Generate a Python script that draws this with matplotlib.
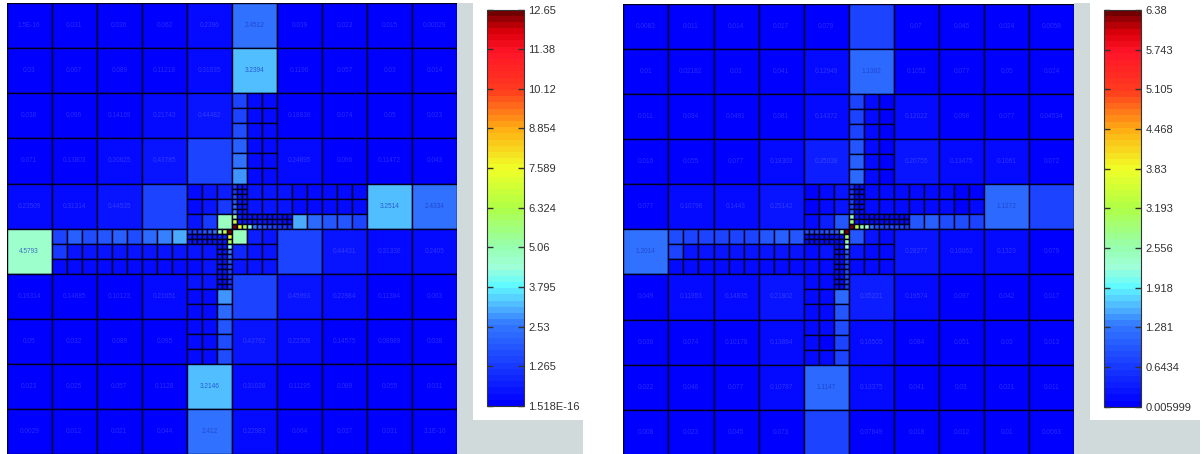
import matplotlib
matplotlib.use("Agg")
import matplotlib.pyplot as plt
from matplotlib.cm import ScalarMappable
from matplotlib.collections import PatchCollection
from matplotlib.colors import LinearSegmentedColormap, Normalize
from matplotlib.patches import Rectangle

plt.rcParams['font.family'] = ['Liberation Sans', 'DejaVu Sans']

WIDTH, HEIGHT = 1204, 454

# every cell is a number, or a 3x3 list of cells (rows go top to bottom)

# ---- left panel ----
L_MAX = 12.65
L_TICKS = ["1.518E-16", "1.265", "2.53", "3.795", "5.06", "6.324",
           "7.589", "8.854", "10.12", "11.38", "12.65"]

L_R2C5 = [[1.4, .3, .25], [1.5, .3, .25], [1.7, .3, .25]]
L_R3C5 = [[2.1, .3, .25], [2.5, .3, .25], [2.8, .3, .3]]
L_R4C4 = [[.35, .4, .6], [.35, .5, 1.2], [.4, 1.2, 4.9]]
L_UP_1 = [[1.2, .5, .4], [1.3, .5, .4], [1.6, .5, .4]]
L_UP_2 = [[1.8, .5, .4], [2.2, .5, .4], [2.6, .5, .4]]
L_TIP_A = [[5.2, .6, .5], [7.0, .6, .5], [12.65, 7.5, 6.5]]
L_ARM_A = [[.5, .5, .4], [.5, .5, .4], [4.2, 2.6, 2.2]]
L_ARM_B = [[.4, .4, .4], [.4, .4, .4], [1.8, 1.6, 1.5]]
L_ARM_C = [[.4, .3, .3], [.4, .3, .3], [1.3, 1.2, 1.1]]
L_R4C5 = [[L_UP_1, .5, .4], [L_UP_2, .5, .4], [L_TIP_A, L_ARM_A, L_ARM_B]]
L_R4C6 = [[.4, .35, .35], [.4, .35, .35], [L_ARM_C, 3.1, 2.3]]
L_R4C7 = [[.35, .3, .3], [.35, .3, .35], [1.9, 1.8, 1.5]]
L_R5C1 = [[1.5, 2.0, 1.7], [1.2, .45, .4], [.3, .3, .3]]
L_R5C2 = [[1.8, 2.0, 1.7], [.4, .4, .4], [.3, .3, .3]]
L_R5C3 = [[2.3, 2.6, 3.0], [.4, .45, .5], [.3, .3, .35]]
L_LEFT_1 = [[1.2, 1.4, 1.5], [.4, .4, .5], [.4, .4, .5]]
L_LEFT_2 = [[1.8, 2.0, 2.4], [.5, .5, .5], [.5, .5, .5]]
L_TIP_B = [[5.2, 6.8, 12.65], [.6, .6, 7.5], [.5, .5, 6.5]]
L_DOWN_1 = [[.5, .5, 4.2], [.5, .5, 2.6], [.4, .4, 2.2]]
L_DOWN_2 = [[.4, .4, 1.8], [.4, .4, 1.6], [.4, .4, 1.5]]
L_DOWN_3 = [[.4, .4, 1.3], [.3, .3, 1.2], [.3, .3, 1.1]]
L_R5C4 = [[L_LEFT_1, L_LEFT_2, L_TIP_B], [.4, .5, L_DOWN_1], [.35, .45, L_DOWN_2]]
L_R5C5 = [[4.9, .7, .55], [.8, .55, .45], [.55, .4, .4]]
L_R6C4 = [[.45, .45, L_DOWN_3], [.3, .3, 2.8], [.3, .3, 2.2]]
L_R7C4 = [[.3, .3, 1.8], [.3, .25, 1.7], [.3, .3, 1.6]]

LEFT_GRID = [
    [1.5e-16, 0.031, 0.036, 0.062, 0.2396, 2.4512, 0.039, 0.023, 0.015, 0.00029],
    [0.03, 0.067, 0.089, 0.11218, 0.31035, 3.2394, 0.1196, 0.057, 0.03, 0.014],
    [0.038, 0.096, 0.14169, 0.21743, 0.44482, L_R2C5, 0.18836, 0.074, 0.05, 0.023],
    [0.071, 0.13803, 0.20625, 0.43785, 1.4, L_R3C5, 0.24895, 0.096, 0.11472, 0.043],
    [0.23509, 0.31314, 0.44535, 1.4, L_R4C4, L_R4C5, L_R4C6, L_R4C7, 3.2514, 2.4334],
    [4.5793, L_R5C1, L_R5C2, L_R5C3, L_R5C4, L_R5C5, 1.4, 0.44431, 0.31336, 0.2405],
    [0.16314, 0.14885, 0.10123, 0.21051, L_R6C4, 1.4, 0.45993, 0.22984, 0.11384, 0.063],
    [0.05, 0.032, 0.089, 0.095, L_R7C4, 0.43762, 0.22309, 0.14575, 0.08989, 0.038],
    [0.023, 0.025, 0.057, 0.1128, 3.2146, 0.31028, 0.11195, 0.089, 0.055, 0.031],
    [0.0029, 0.012, 0.021, 0.044, 2.412, 0.22983, 0.064, 0.037, 0.031, 3.1e-16],
]

# ---- right panel ----
R_MAX = 6.38
R_MIN = 0.005999
R_TICKS = ["0.005999", "0.6434", "1.281", "1.918", "2.556", "3.193",
           "3.83", "4.468", "5.105", "5.743", "6.38"]

R_R2C5 = [[.75, .12, .1], [.8, .12, .1], [.8, .12, .1]]
R_R3C5 = [[.95, .12, .1], [1.1, .12, .1], [1.15, .12, .1]]
R_R4C4 = [[.1, .15, .25], [.1, .2, .3], [.15, .35, .95]]
R_UP_1 = [[.6, .2, .15], [.65, .2, .15], [.7, .2, .15]]
R_UP_2 = [[.75, .2, .15], [.8, .2, .15], [1.1, .2, .15]]
R_TIP_A = [[2.5, .25, .2], [2.9, .25, .2], [6.38, 3.2, 2.5]]
R_ARM_A = [[.2, .2, .15], [.2, .2, .15], [2.3, 1.3, .95]]
R_ARM_B = [[.15, .15, .15], [.15, .15, .15], [.9, .85, .85]]
R_ARM_C = [[.15, .12, .12], [.15, .12, .12], [.85, .85, .8]]
R_R4C5 = [[R_UP_1, .2, .15], [R_UP_2, .2, .15], [R_TIP_A, R_ARM_A, R_ARM_B]]
R_R4C6 = [[.15, .12, .12], [.15, .12, .12], [R_ARM_C, 1.0, 1.05]]
R_R4C7 = [[.12, .1, .1], [.12, .1, .12], [.85, .85, .8]]
R_R5C1 = [[.85, .8, .75], [.8, .25, .25], [.15, .15, .15]]
R_R5C2 = [[.8, .8, .75], [.25, .25, .25], [.15, .15, .15]]
R_R5C3 = [[1.0, 1.1, 1.0], [.25, .25, .3], [.15, .15, .2]]
R_LEFT_1 = [[.9, .9, .9], [.2, .2, .2], [.2, .2, .2]]
R_LEFT_2 = [[.9, 1.0, 1.0], [.2, .2, .2], [.2, .2, .2]]
R_TIP_B = [[1.1, 2.5, 6.38], [.25, .25, 3.0], [.2, .25, 2.5]]
R_DOWN_1 = [[.2, .2, 2.2], [.2, .2, 1.1], [.2, .2, .95]]
R_DOWN_2 = [[.15, .15, .9], [.15, .15, .85], [.15, .15, .85]]
R_DOWN_3 = [[.15, .15, .85], [.12, .12, .85], [.12, .12, .8]]
R_R5C4 = [[R_LEFT_1, R_LEFT_2, R_TIP_B], [.2, .25, R_DOWN_1], [.15, .2, R_DOWN_2]]
R_R5C5 = [[.95, .25, .2], [.25, .2, .15], [.2, .15, .15]]
R_R6C4 = [[.2, .2, R_DOWN_3], [.12, .15, 1.15], [.12, .15, .95]]
R_R7C4 = [[.12, .12, .85], [.12, .1, .8], [.12, .12, .8]]

RIGHT_GRID = [
    [0.0083, 0.011, 0.014, 0.017, 0.079, 0.75, 0.07, 0.045, 0.024, 0.0058],
    [0.01, 0.02182, 0.03, 0.041, 0.12949, 1.1362, 0.1052, 0.077, 0.05, 0.024],
    [0.011, 0.034, 0.0491, 0.081, 0.14372, R_R2C5, 0.12022, 0.098, 0.077, 0.04534],
    [0.016, 0.055, 0.077, 0.18303, 0.35038, R_R3C5, 0.20755, 0.13475, 0.1061, 0.072],
    [0.077, 0.10796, 0.1443, 0.25142, R_R4C4, R_R4C5, R_R4C6, R_R4C7, 1.1272, 0.75],
    [1.2014, R_R5C1, R_R5C2, R_R5C3, R_R5C4, R_R5C5, 0.28277, 0.16063, 0.1323, 0.079],
    [0.049, 0.11953, 0.14835, 0.21802, R_R6C4, 0.35221, 0.19574, 0.097, 0.042, 0.017],
    [0.036, 0.074, 0.10178, 0.13884, R_R7C4, 0.16505, 0.084, 0.051, 0.03, 0.013],
    [0.022, 0.046, 0.077, 0.10787, 1.1147, 0.13375, 0.041, 0.03, 0.021, 0.011],
    [0.008, 0.023, 0.045, 0.073, 0.75, 0.07849, 0.018, 0.012, 0.01, 0.0063],
]

COLOR_STOPS = [
    (0.0, (0, 0, 255)), (0.2, (50, 120, 255)), (0.25, (80, 185, 255)),
    (0.3, (95, 250, 255)), (0.35, (160, 255, 215)), (0.4, (150, 255, 175)),
    (0.5, (175, 255, 70)), (0.6, (240, 255, 40)), (0.7, (255, 175, 20)),
    (0.8, (255, 60, 30)), (0.9, (255, 20, 40)), (0.95, (220, 0, 10)),
    (1.0, (115, 0, 0)),
]
jet_like = LinearSegmentedColormap.from_list(
    "mesh", [(t, tuple(c / 255 for c in rgb)) for t, rgb in COLOR_STOPS], N=64)

PANEL_GREY = "#d0dada"


def px_box(x0, y0, x1, y1):
    # pixel box (top left origin) -> figure fraction rect
    return [x0 / WIDTH, 1 - y1 / HEIGHT, (x1 - x0) / WIDTH, (y1 - y0) / HEIGHT]


def add_grey(fig, x0, y0, x1, y1):
    l, b, w, h = px_box(x0, y0, x1, y1)
    fig.add_artist(Rectangle((l, b), w, h, transform=fig.transFigure,
                             facecolor=PANEL_GREY, edgecolor="none", zorder=0))


def collect_cells(cell, x, y, size, out):
    if isinstance(cell, list):
        step = size / 3
        for i, row in enumerate(cell):
            for j, sub in enumerate(row):
                collect_cells(sub, x + j * step, y + i * step, step, out)
    else:
        out.append((x, y, size, cell))


def draw_mesh(ax, grid, norm):
    cells = []
    for i, row in enumerate(grid):
        for j, cell in enumerate(row):
            collect_cells(cell, j, i, 1, cells)
            if isinstance(cell, list):
                continue
            frac = cell / norm.vmax
            # these cells hide their label, text and fill are the same blue
            if 0.08 < frac < 0.13:
                continue
            # faint light text on the dark cells, darker blue on the bright ones
            color, alpha = ("white", 0.17) if frac < 0.08 else ("#1c3cc0", 0.75)
            ax.text(j + 0.5, i + 0.5, f"{cell:.5g}".upper(), color=color, alpha=alpha,
                    fontsize=4.7, ha="center", va="center", zorder=3)
    patches = [Rectangle((x, y), s, s) for x, y, s, _ in cells]
    mesh = PatchCollection(patches, cmap=jet_like, norm=norm,
                           edgecolor="#00001e", linewidth=1.0, zorder=2)
    mesh.set_array([c[3] for c in cells])
    ax.add_collection(mesh)
    ax.set_xlim(0, 10)
    ax.set_ylim(10, 0)
    ax.axis("off")


def draw_bar(fig, box, norm, labels):
    cax = fig.add_axes(px_box(*box))
    sm = ScalarMappable(norm=norm, cmap=jet_like)
    bar = fig.colorbar(sm, cax=cax)
    step = (norm.vmax - norm.vmin) / 10
    bar.set_ticks([norm.vmin + k * step for k in range(11)], labels=labels)
    cax.tick_params(axis="y", direction="in", left=True, right=True, length=4,
                    width=1.0, labelsize=8, pad=3, colors="#333333")
    bar.outline.set_edgecolor("#333333")
    bar.outline.set_linewidth(0.8)


fig = plt.figure(figsize=(WIDTH / 100, HEIGHT / 100), dpi=100, facecolor="white")

add_grey(fig, 457, 3, 473, 454)
add_grey(fig, 457, 420, 583, 454)
add_grey(fig, 1074, 3, 1090, 454)
add_grey(fig, 1074, 420, 1200, 454)

left_norm = Normalize(0, L_MAX)
right_norm = Normalize(R_MIN, R_MAX)

ax_left = fig.add_axes(px_box(6.7, 3.3, 457.3, 453.8))
draw_mesh(ax_left, LEFT_GRID, left_norm)
ax_right = fig.add_axes(px_box(623.3, 3.8, 1074.3, 454.8))
draw_mesh(ax_right, RIGHT_GRID, right_norm)

draw_bar(fig, (487.3, 9.5, 524.3, 406), left_norm, L_TICKS)
draw_bar(fig, (1104, 10, 1141.3, 406.7), right_norm, R_TICKS)

fig.savefig("out.png", dpi=100)
